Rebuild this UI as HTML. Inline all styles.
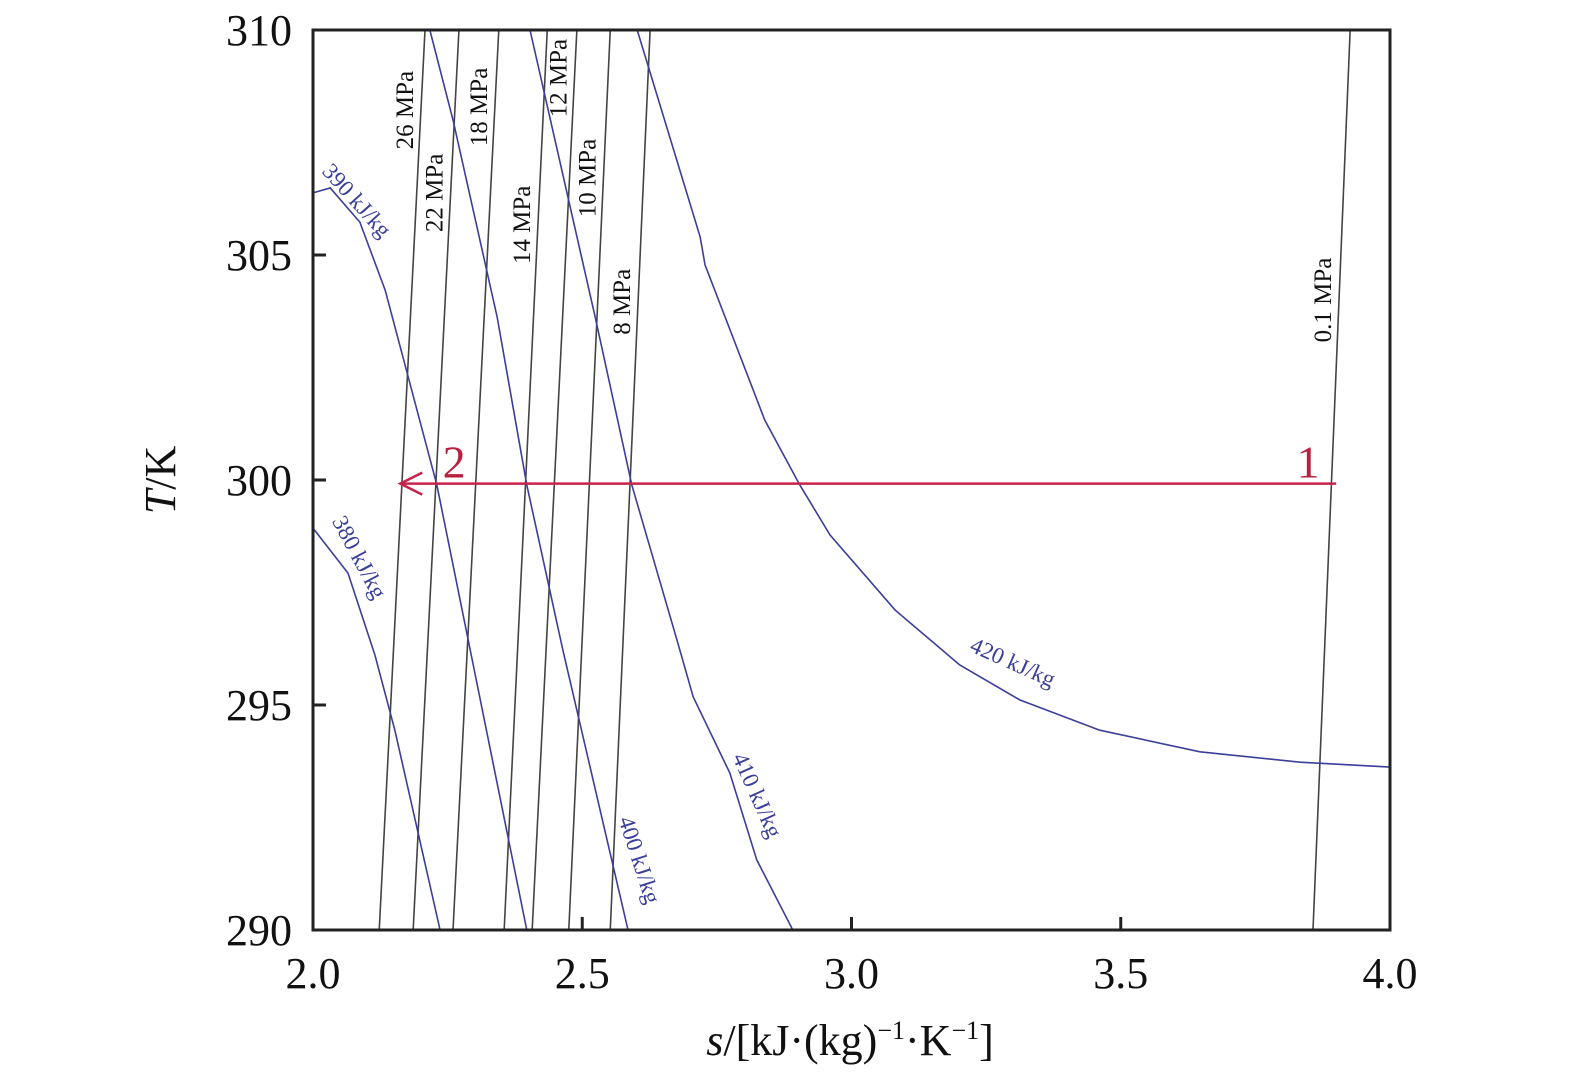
<!DOCTYPE html>
<html><head><meta charset="utf-8"><style>
html,body{margin:0;padding:0;background:#fff;}
svg text{font-family:"Liberation Serif",serif;}
</style></head><body>
<svg id="chart" width="1575" height="1074" viewBox="0 0 1575 1074" xmlns="http://www.w3.org/2000/svg">
</svg>
<script>
// ---- data ----
const isobarNames = ["26 MPa","22 MPa","18 MPa","14 MPa","12 MPa","10 MPa","8 MPa","0.1 MPa"];
const isobarS290 = [2.123,2.186,2.260,2.355,2.407,2.475,2.552,3.857];
const isobarS310 = [2.208,2.271,2.345,2.435,2.490,2.552,2.626,3.926];
const isobarLabelT = [308.22,306.38,308.29,305.67,308.93,306.71,303.96,304.0];

const hNames = ["380 kJ/kg","390 kJ/kg","400 kJ/kg","410 kJ/kg","420 kJ/kg"];
const h380S = [2.000,2.065,2.115,2.152,2.236];
const h380T = [298.93,297.93,296.11,294.44,290];
const h390S = [2.000,2.032,2.087,2.134,2.230,2.292,2.397];
const h390T = [306.38,306.49,305.73,304.22,299.89,296.22,290];
const h400S = [2.217,2.260,2.342,2.397,2.464,2.585];
const h400T = [310,308,303.62,299.89,296.22,290];
const h410S = [2.403,2.524,2.592,2.676,2.706,2.774,2.824,2.891];
const h410T = [310,303.62,299.89,296.44,295.18,293.49,291.56,290];
const h420S = [2.602,2.719,2.728,2.839,2.904,2.960,3.081,3.201,3.313,3.461,3.647,3.833,4.0];
const h420T = [310,305.4,304.78,301.33,299.89,298.78,297.11,295.89,295.11,294.44,293.96,293.73,293.62];
const hLabelS = [2.087,2.082,2.607,2.826,3.300];
const hLabelT = [298.29,306.22,291.56,293.0,295.96];
const hLabelRot = [62,48,72,66,24];

const processS = [3.90,2.162];
const processT = [299.92,299.92];

const xTicks = [2.0,2.5,3.0,3.5,4.0];
const xTickLabels = ["2.0","2.5","3.0","3.5","4.0"];
const yTicks = [290,295,300,305,310];
const yTickLabels = ["290","295","300","305","310"];

// ---- axes ----
const X0=313,X1=1390,Y0=930,Y1=30;
const xs = s => X0 + (s-2.0)/(4.0-2.0)*(X1-X0);
const ys = t => Y0 - (t-290)/(310-290)*(Y0-Y1);
const NS="http://www.w3.org/2000/svg";
const svg=document.getElementById('chart');
function mk(tag,attrs,parent){const e=document.createElementNS(NS,tag);for(const k in attrs)e.setAttribute(k,attrs[k]);(parent||svg).appendChild(e);return e;}

// isobars
isobarNames.forEach((n,i)=>{
  const l=mk('line',{x1:xs(isobarS290[i]),y1:ys(290),x2:xs(isobarS310[i]),y2:ys(310),stroke:'#444','stroke-width':1.6});
  
  
  const T=isobarLabelT[i];
  const s=isobarS290[i]+(isobarS310[i]-isobarS290[i])*(T-290)/20;
  const x=xs(s)-8, y=ys(T);
  const t=mk('text',{x:x,y:y,'font-size':25,'text-anchor':'middle',fill:'#111',transform:`rotate(-90 ${x} ${y})`});
  t.textContent=n;
  
  
});

// enthalpy lines
const hS=[h380S,h390S,h400S,h410S,h420S], hT=[h380T,h390T,h400T,h410T,h420T];
hNames.forEach((n,i)=>{
  const pts=hS[i].map((s,j)=>xs(s)+','+ys(hT[i][j])).join(' ');
  const p=mk('polyline',{points:pts,fill:'none',stroke:'#3a3f9a','stroke-width':1.6});
  
  
  const x=xs(hLabelS[i]), y=ys(hLabelT[i]);
  const t=mk('text',{x:x,y:y+8,'font-size':23,'text-anchor':'middle',fill:'#3a3f9a',transform:`rotate(${hLabelRot[i]} ${x} ${y})`});
  t.textContent=n;
  
  
});

// process arrow
const ax1=xs(processS[0]),ay=ys(processT[0]),ax2=xs(processS[1]);
const pl=mk('line',{x1:ax1,y1:ay,x2:ax2,y2:ay,stroke:'#c8234a','stroke-width':2.5});


const ah=mk('polyline',{points:`${ax2+22},${ay-11} ${ax2},${ay} ${ax2+22},${ay+11}`,fill:'none',stroke:'#c8234a','stroke-width':2.5});


const p1=mk('text',{x:ax1-28,y:ay-6,'font-size':46,fill:'#b8203f','text-anchor':'middle'});p1.textContent='1';


const p2=mk('text',{x:xs(2.262),y:ay-6,'font-size':46,fill:'#b8203f','text-anchor':'middle'});p2.textContent='2';



// frame
const fr=mk('rect',{x:X0,y:Y1,width:X1-X0,height:Y0-Y1,fill:'none',stroke:'#222','stroke-width':3});



// ticks
xTicks.forEach((v,i)=>{
  const tk=mk('line',{x1:xs(v),y1:Y0,x2:xs(v),y2:Y0-13,stroke:'#222','stroke-width':3});
  
  
  const t=mk('text',{x:xs(v),y:988,'font-size':44,'text-anchor':'middle',fill:'#111'});t.textContent=xTickLabels[i];
  
  
});
yTicks.forEach((v,i)=>{
  const tk=mk('line',{x1:X0,y1:ys(v),x2:X0+13,y2:ys(v),stroke:'#222','stroke-width':3});
  
  
  const t=mk('text',{x:292,y:ys(v)+15,'font-size':44,'text-anchor':'end',fill:'#111'});t.textContent=yTickLabels[i];
  
  
});

// axis titles
const yt=mk('text',{x:175,y:480,'font-size':44,'text-anchor':'middle',fill:'#111',transform:'rotate(-90 175 480)'});
yt.innerHTML='<tspan font-style="italic">T</tspan>/K';


const xt=mk('text',{x:850,y:1055,'font-size':44,'text-anchor':'middle',fill:'#111'});
xt.innerHTML='<tspan font-style="italic">s</tspan>/[kJ·(kg)<tspan dy="-16" font-size="26">−1</tspan><tspan dy="16">·K</tspan><tspan dy="-16" font-size="26">−1</tspan><tspan dy="16">]</tspan>';


</script>
</body></html>
